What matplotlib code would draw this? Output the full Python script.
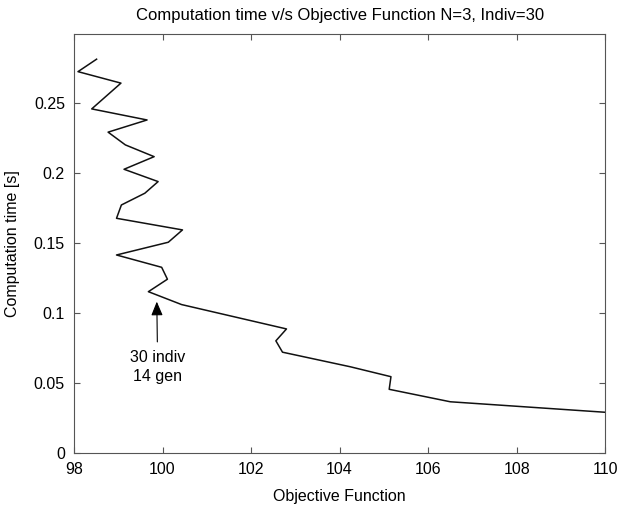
import matplotlib
matplotlib.use("Agg")
import matplotlib.pyplot as plt
from matplotlib.ticker import FuncFormatter

plt.rcParams["font.family"] = ["Liberation Sans", "DejaVu Sans"]

# === data ===
objective = [98.51, 98.09, 99.06, 98.40, 99.65, 98.77, 99.16, 99.81, 99.13, 99.90,
             99.60, 99.07, 98.96, 100.45, 100.13, 98.96, 99.98, 100.11, 99.68,
             100.43, 102.80, 102.56, 102.71, 104.24, 105.16, 105.12, 106.50, 110.0]
comp_time = [0.2810, 0.2721, 0.2639, 0.2455, 0.2376, 0.2289, 0.2198, 0.2114, 0.2024, 0.1936,
             0.1853, 0.1769, 0.1674, 0.1591, 0.1503, 0.1412, 0.1324, 0.1239, 0.1150,
             0.1058, 0.0884, 0.0799, 0.0718, 0.0614, 0.0543, 0.0453, 0.0364, 0.0289]
x_ticks = [98, 100, 102, 104, 106, 108, 110]
y_ticks = [0, 0.05, 0.1, 0.15, 0.2, 0.25]
best_point = (99.87, 0.1079)
best_label = "30 indiv\n14 gen"

fig = plt.figure(figsize=(6.22, 5.07), dpi=100)
ax = fig.add_axes([0.119, 0.107, 0.854, 0.826])

ax.plot(objective, comp_time, color="#111111", lw=1.1)

ax.annotate(best_label, xy=best_point, xytext=(99.89, 0.0612),
            ha="center", va="center", fontsize=11.5, linespacing=1.3,
            arrowprops=dict(arrowstyle="-|>,head_length=0.6,head_width=0.25",
                            color="k", lw=0.8,
                            mutation_scale=14, shrinkA=4, shrinkB=0))

ax.set_xlim(98, 110)
ax.set_ylim(0, 0.299)
ax.set_xticks(x_ticks)
ax.set_yticks(y_ticks)
ax.yaxis.set_major_formatter(FuncFormatter(lambda v, p: "%g" % v))
ax.tick_params(direction="in", top=True, right=True, labelsize=11.5,
               color="#555555", length=4)
ax.tick_params(axis="x", pad=6.5)
ax.tick_params(axis="y", pad=6.5)
for s in ax.spines.values():
    s.set_color("#555555")
    s.set_linewidth(0.8)

ax.set_title("Computation time v/s Objective Function N=3, Indiv=30", fontsize=12, pad=10)
ax.set_xlabel("Objective Function", fontsize=11.5, labelpad=9)
ax.set_ylabel("Computation time [s]", fontsize=11.5, labelpad=10)

fig.savefig("out.png", dpi=100)
